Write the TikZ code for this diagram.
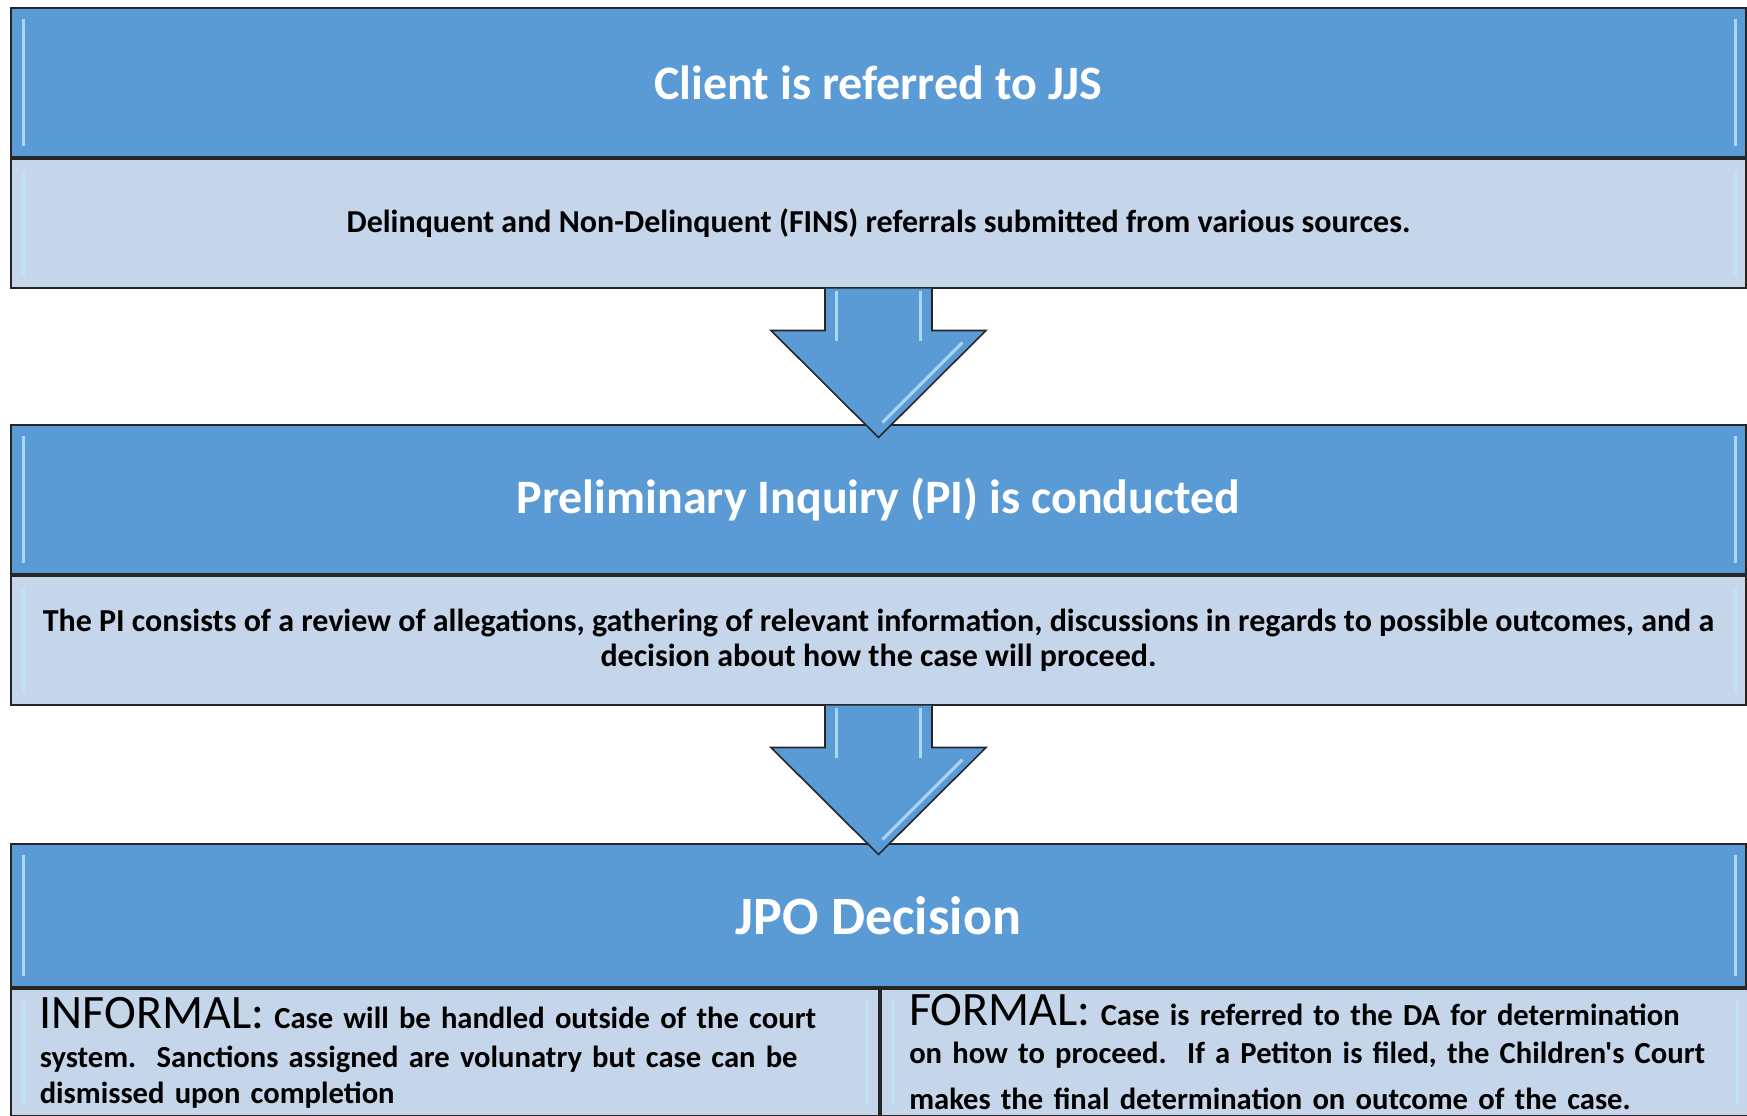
\documentclass[tikz,border=0pt]{standalone}
\usepackage{fontspec}
\setmainfont{Carlito}[Ligatures=TeXOff]
\usetikzlibrary{positioning,calc}
\definecolor{headblue}{HTML}{5B9BD5}
\definecolor{bodyblue}{HTML}{C5D5EA}
\definecolor{edgegray}{HTML}{262626}
\definecolor{shinecyan}{HTML}{BDE6FA}
\frenchspacing

\begin{document}
\begin{tikzpicture}[x=0.5pt, y=-0.5pt,
    head/.style={draw=edgegray, line width=1pt, fill=headblue, text=white, inner sep=0pt,
      minimum width=867.5pt, minimum height=74.5pt, font=\bfseries\fontsize{24}{28}\selectfont},
    body/.style={draw=edgegray, line width=1pt, fill=bodyblue, inner sep=0pt,
      minimum width=867.5pt, minimum height=64.25pt, align=center, font=\bfseries\fontsize{16}{17.5}\selectfont},
    half/.style={body, minimum width=433.75pt, minimum height=63.5pt, text width=405pt, align=left,
      font=\bfseries\fontsize{15.3}{18}\selectfont},
    blockarrow/.style={draw=edgegray, line width=0.8pt, fill=headblue, line join=miter},
    shine/.style={draw=shinecyan, line width=1.5pt, opacity=0.8}]
     \useasboundingbox (0,0) rectangle (1747,1115);
     \clip (0,0) rectangle (1747,1115);

     % step 1
     \node[head, anchor=north west] (hd1) at (10,7) {Client is referred to JJS};
     \node[body, below=0pt of hd1] (bd1) {Delinquent and Non-Delinquent (FINS) referrals submitted from various sources.};

     % step 2
     \node[head, anchor=north west] (hd2) at (10,424) {Preliminary Inquiry (PI) is conducted};
     \node[body, below=0pt of hd2] (bd2) {The PI consists of a review of allegations, gathering of relevant information, discussions in regards to possible outcomes, and a\\ decision about how the case will proceed.};

     % step 3
     \node[head, anchor=north west, minimum height=71.5pt, font=\bfseries\fontsize{27}{30}\selectfont] (hd3) at (10,843) {JPO Decision};
     \node[half, anchor=north west] (bdL) at (hd3.south west) {{\mdseries\fontsize{24}{26}\selectfont INFORMAL:} Case will be handled outside of the court\\[1.5pt] system.\ \ Sanctions assigned are volunatry but case can be\\ dismissed upon completion};
     \node[half, anchor=north west] (bdR) at (bdL.north east) {{\mdseries\fontsize{24}{26}\selectfont FORMAL:} Case is referred to the DA for determination\\[1pt] on how to proceed.\ \ If a Petiton is filed, the Children's Court\\[5pt] makes the final determination on outcome of the case.};

     \foreach \n in {hd1,bd1,hd2,bd2,hd3,bdL,bdR} {
       \draw[shine] ($(\n.north west)+(13,12)$) -- ($(\n.south west)+(13,-12)$);
       \draw[shine] ($(\n.north east)+(-12,12)$) -- ($(\n.south east)+(-12,-12)$);
     }

     % arrows between steps
     \foreach \a in {bd1,bd2} {
       \filldraw[blockarrow] ($(\a.south)+(-53.5,0)$) -- ++(0,42) -- ++(-54,0) -- ++(107.5,107) -- ++(107.5,-107) -- ++(-54,0) -- ++(0,-42);
       \draw[shine] ($(\a.south)+(-42,2)$) -- ++(0,50);
       \draw[shine] ($(\a.south)+(42,2)$) -- ++(0,50);
       \draw[shine] ($(\a.south)+(84,54)$) -- ++(-80,80);
     }
    \end{tikzpicture}
\end{document}
